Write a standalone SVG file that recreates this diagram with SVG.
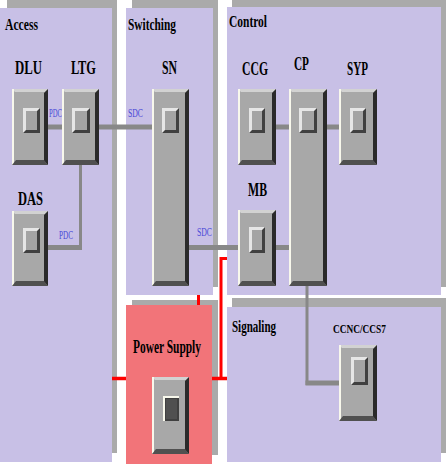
<svg xmlns="http://www.w3.org/2000/svg" width="446" height="464" viewBox="0 0 446 464">
<defs>
<style>
.bg{fill:#ffffff}
.sh{fill:#aaaaaa}
.pn{fill:#c8c0e6}
.ps{fill:#f27479}
.body{fill:#a8a8a8}
.hl{fill:#f8f8ec}
.tb{fill:#d2d2d2}
.rb{fill:#2a2a2a}
.bb{fill:#505050}
.il{fill:#e6e6e6}
.id{fill:#404040}
.ic{fill:#a4a4a4}
.idark{fill:#505050}
.grp{font-family:"Liberation Serif","Times New Roman",serif;font-weight:bold;font-size:16px;fill:#000}
.lbl{font-family:"Liberation Serif","Times New Roman",serif;font-weight:bold;font-size:18px;fill:#000}
.sm{font-family:"Liberation Serif","Times New Roman",serif;font-size:12px;fill:#4848d8}
.con{stroke:#888888;fill:none}
.red{stroke:#ff0000;fill:none}
</style>
</defs>
<rect class="bg" x="0" y="0" width="446" height="464"/>

<g id="panel-access">
<rect class="sh" x="7" y="0" width="110" height="453"/>
<rect class="pn" x="0" y="8" width="112" height="454"/>
<text class="grp" x="5" y="30" textLength="33" lengthAdjust="spacingAndGlyphs">Access</text>
</g>
<g id="panel-switching">
<rect class="sh" x="132" y="0" width="86" height="287"/>
<rect class="pn" x="126" y="8" width="87" height="287"/>
<text class="grp" x="128" y="30" textLength="48" lengthAdjust="spacingAndGlyphs">Switching</text>
</g>
<g id="panel-control">
<rect class="sh" x="232" y="0" width="214" height="287"/>
<rect class="pn" x="227" y="7" width="214" height="288"/>
<text class="grp" x="229" y="27" textLength="38" lengthAdjust="spacingAndGlyphs">Control</text>
</g>
<g id="panel-signaling">
<rect class="sh" x="232" y="298" width="214" height="155"/>
<rect class="pn" x="227" y="307" width="214" height="155"/>
<text class="grp" x="232" y="332" textLength="44" lengthAdjust="spacingAndGlyphs">Signaling</text>
</g>
<g id="panel-power">
<rect class="sh" x="132" y="300" width="86" height="155"/>
<rect class="ps" x="126" y="305" width="86" height="159"/>
<text class="lbl" x="133" y="353" textLength="68" lengthAdjust="spacingAndGlyphs">Power Supply</text>
</g>

<g id="connectors">
<line class="con" x1="48" y1="127" x2="62" y2="127" stroke-width="5"/>
<line class="con" x1="99" y1="127" x2="152" y2="127" stroke-width="5"/>
<line class="con" x1="80.5" y1="165" x2="80.5" y2="250" stroke-width="3"/>
<line class="con" x1="48" y1="247.5" x2="82" y2="247.5" stroke-width="5"/>
<line class="con" x1="189" y1="247.5" x2="238" y2="247.5" stroke-width="5"/>
<line class="con" x1="276" y1="247.5" x2="289" y2="247.5" stroke-width="5"/>
<line class="con" x1="276" y1="127" x2="289" y2="127" stroke-width="5"/>
<line class="con" x1="327" y1="127" x2="339" y2="127" stroke-width="5"/>
<line class="con" x1="307" y1="286" x2="307" y2="385" stroke-width="3"/>
<line class="con" x1="305.5" y1="383" x2="339" y2="383" stroke-width="5"/>
<polyline class="red" points="227,258.5 221,258.5 221,378.5 227,378.5" stroke-width="3"/>
<line class="red" x1="212" y1="378.5" x2="227" y2="378.5" stroke-width="3.5"/>
<line class="red" x1="112" y1="378.5" x2="126" y2="378.5" stroke-width="3.5"/>
<line class="red" x1="198.5" y1="295" x2="198.5" y2="305" stroke-width="3"/>
<text class="sm" x="49" y="117" textLength="13" lengthAdjust="spacingAndGlyphs">PDC</text>
<text class="sm" x="128" y="117" textLength="15" lengthAdjust="spacingAndGlyphs">SDC</text>
<text class="sm" x="59" y="239" textLength="14" lengthAdjust="spacingAndGlyphs">PDC</text>
<text class="sm" x="197" y="236" textLength="15" lengthAdjust="spacingAndGlyphs">SDC</text>
</g>

<g id="DLU">
<text class="lbl" x="15" y="74" textLength="27" lengthAdjust="spacingAndGlyphs">DLU</text>
<rect class="body" x="12" y="89" width="36" height="76"/>
<polygon class="tb" points="12,89 48,89 45,92 15,92"/>
<rect class="hl" x="12" y="89" width="2" height="76"/>
<polygon class="rb" points="48,89 48,165 44,161 44,93"/>
<polygon class="bb" points="12,165 48,165 44,160 16,160"/>
<rect class="il" x="23" y="108" width="17" height="25"/>
<polygon class="id" points="40,108 40,133 23,133 26,130 37,130 37,111"/>
<rect class="ic" x="26" y="111" width="11" height="19"/>
</g>

<g id="LTG">
<text class="lbl" x="71" y="74" textLength="25" lengthAdjust="spacingAndGlyphs">LTG</text>
<rect class="body" x="62" y="89" width="37" height="76"/>
<polygon class="tb" points="62,89 99,89 96,92 65,92"/>
<rect class="hl" x="62" y="89" width="2" height="76"/>
<polygon class="rb" points="99,89 99,165 95,161 95,93"/>
<polygon class="bb" points="62,165 99,165 95,160 66,160"/>
<rect class="il" x="72" y="108" width="18" height="25"/>
<polygon class="id" points="90,108 90,133 72,133 75,130 87,130 87,111"/>
<rect class="ic" x="75" y="111" width="12" height="19"/>
</g>

<g id="SN">
<text class="lbl" x="162" y="74" textLength="15" lengthAdjust="spacingAndGlyphs">SN</text>
<rect class="body" x="152" y="89" width="37" height="197"/>
<polygon class="tb" points="152,89 189,89 186,92 155,92"/>
<rect class="hl" x="152" y="89" width="2" height="197"/>
<polygon class="rb" points="189,89 189,286 185,282 185,93"/>
<polygon class="bb" points="152,286 189,286 185,281 156,281"/>
<rect class="il" x="162" y="108" width="17" height="25"/>
<polygon class="id" points="179,108 179,133 162,133 165,130 176,130 176,111"/>
<rect class="ic" x="165" y="111" width="11" height="19"/>
</g>

<g id="DAS">
<text class="lbl" x="18" y="205" textLength="25" lengthAdjust="spacingAndGlyphs">DAS</text>
<rect class="body" x="12" y="211" width="36" height="75"/>
<polygon class="tb" points="12,211 48,211 45,214 15,214"/>
<rect class="hl" x="12" y="211" width="2" height="75"/>
<polygon class="rb" points="48,211 48,286 44,282 44,215"/>
<polygon class="bb" points="12,286 48,286 44,281 16,281"/>
<rect class="il" x="23" y="228" width="17" height="25"/>
<polygon class="id" points="40,228 40,253 23,253 26,250 37,250 37,231"/>
<rect class="ic" x="26" y="231" width="11" height="19"/>
</g>

<g id="CCG">
<text class="lbl" x="242" y="75" textLength="26" lengthAdjust="spacingAndGlyphs">CCG</text>
<rect class="body" x="238" y="89" width="38" height="76"/>
<polygon class="tb" points="238,89 276,89 273,92 241,92"/>
<rect class="hl" x="238" y="89" width="2" height="76"/>
<polygon class="rb" points="276,89 276,165 272,161 272,93"/>
<polygon class="bb" points="238,165 276,165 272,160 242,160"/>
<rect class="il" x="249" y="108" width="16" height="25"/>
<polygon class="id" points="265,108 265,133 249,133 252,130 262,130 262,111"/>
<rect class="ic" x="252" y="111" width="10" height="19"/>
</g>

<g id="CP">
<text class="lbl" x="294" y="70" textLength="15" lengthAdjust="spacingAndGlyphs">CP</text>
<rect class="body" x="289" y="89" width="38" height="197"/>
<polygon class="tb" points="289,89 327,89 324,92 292,92"/>
<rect class="hl" x="289" y="89" width="2" height="197"/>
<polygon class="rb" points="327,89 327,286 323,282 323,93"/>
<polygon class="bb" points="289,286 327,286 323,281 293,281"/>
<rect class="il" x="299" y="108" width="18" height="25"/>
<polygon class="id" points="317,108 317,133 299,133 302,130 314,130 314,111"/>
<rect class="ic" x="302" y="111" width="12" height="19"/>
</g>

<g id="SYP">
<text class="lbl" x="347" y="75" textLength="21" lengthAdjust="spacingAndGlyphs">SYP</text>
<rect class="body" x="339" y="89" width="38" height="76"/>
<polygon class="tb" points="339,89 377,89 374,92 342,92"/>
<rect class="hl" x="339" y="89" width="2" height="76"/>
<polygon class="rb" points="377,89 377,165 373,161 373,93"/>
<polygon class="bb" points="339,165 377,165 373,160 343,160"/>
<rect class="il" x="350" y="108" width="16" height="25"/>
<polygon class="id" points="366,108 366,133 350,133 353,130 363,130 363,111"/>
<rect class="ic" x="353" y="111" width="10" height="19"/>
</g>

<g id="MB">
<text class="lbl" x="248" y="196" textLength="19" lengthAdjust="spacingAndGlyphs">MB</text>
<rect class="body" x="238" y="210" width="38" height="76"/>
<polygon class="tb" points="238,210 276,210 273,213 241,213"/>
<rect class="hl" x="238" y="210" width="2" height="76"/>
<polygon class="rb" points="276,210 276,286 272,282 272,214"/>
<polygon class="bb" points="238,286 276,286 272,281 242,281"/>
<rect class="il" x="249" y="227" width="16" height="26"/>
<polygon class="id" points="265,227 265,253 249,253 252,250 262,250 262,230"/>
<rect class="ic" x="252" y="230" width="10" height="20"/>
</g>

<g id="CCNC">
<text class="lbl" x="333" y="333" textLength="53" lengthAdjust="spacingAndGlyphs" style="font-size:13.5px">CCNC/CCS7</text>
<rect class="body" x="339" y="345" width="38" height="76"/>
<polygon class="tb" points="339,345 377,345 374,348 342,348"/>
<rect class="hl" x="339" y="345" width="2" height="76"/>
<polygon class="rb" points="377,345 377,421 373,417 373,349"/>
<polygon class="bb" points="339,421 377,421 373,416 343,416"/>
<rect class="il" x="351" y="357" width="17" height="28"/>
<polygon class="id" points="368,357 368,385 351,385 354,382 365,382 365,360"/>
<rect class="ic" x="354" y="360" width="11" height="22"/>
</g>

<g id="PowerSwitch">
<rect class="body" x="152" y="377" width="37" height="77"/>
<polygon class="tb" points="152,377 189,377 186,380 155,380"/>
<rect class="hl" x="152" y="377" width="2" height="77"/>
<polygon class="rb" points="189,377 189,454 185,450 185,381"/>
<polygon class="bb" points="152,454 189,454 185,449 156,449"/>
<rect class="hl" x="163" y="396" width="16" height="25"/>
<rect class="id" x="165" y="398" width="14" height="23"/>
<rect class="idark" x="166" y="399" width="11" height="20"/>
</g>
</svg>
